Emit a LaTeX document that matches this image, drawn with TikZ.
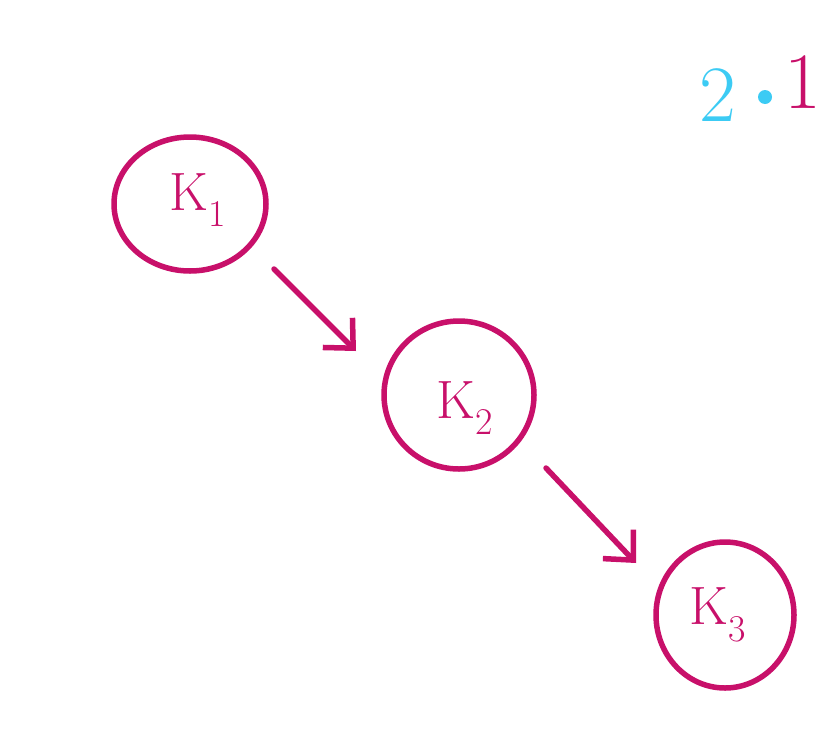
\documentclass[tikz,border=0pt]{standalone}
\usepackage{fontspec}
\usetikzlibrary{shapes.geometric,arrows.meta}
\definecolor{mag}{HTML}{C8106A}
\definecolor{skyb}{HTML}{3CCBF4}
\begin{document}
\begin{tikzpicture}[x=1pt,y=-1pt,
  kbox/.style={draw=mag, line width=5.5pt, ellipse, inner sep=0pt},
  klabel/.style={text=mag, font=\fontsize{54}{54}\selectfont},
  karrow/.style={draw=mag, line width=5.5pt, line cap=round, -{Straight Barb[length=22pt,width=42pt,line width=5.5pt]}}]
\useasboundingbox (0,0) rectangle (824,750);
\node[kbox, minimum width=152pt, minimum height=134pt] (k1) at (190,204) {};
\node[kbox, minimum width=150pt, minimum height=148pt] (k2) at (459,395) {};
\node[kbox, minimum width=138pt, minimum height=146pt] (k3) at (725,615) {};
\node[klabel] (t1) at (198,200) {K\textsubscript{1}};
\node[klabel] (t2) at (465,408) {K\textsubscript{2}};
\node[klabel] (t3) at (718,615) {K\textsubscript{3}};
\coordinate (a1s) at (274,269);
\coordinate (a1e) at (356,351);
\coordinate (a2s) at (546,468);
\coordinate (a2e) at (636,563);
\draw[karrow] (a1s) -- (a1e);
\draw[karrow] (a2s) -- (a2e);
\node[text=skyb, font=\fontsize{80}{80}\selectfont, inner sep=0pt] (two) at (718,95) {2};
\fill[skyb] (765,97) circle (7pt);
\node[text=mag, font=\fontsize{80}{80}\selectfont, anchor=west, inner sep=0pt] (one) at (784,82) {1};
\end{tikzpicture}
\end{document}
